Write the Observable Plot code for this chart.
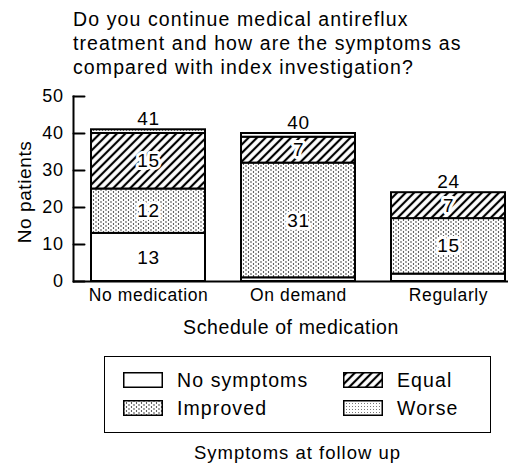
<!DOCTYPE html>
<html><head><meta charset="utf-8">
<script src="https://cdn.jsdelivr.net/npm/d3@7"></script>
<script src="https://cdn.jsdelivr.net/npm/@observablehq/plot@0.6"></script>
<style>
body{margin:0;background:#fff;font-family:"Liberation Sans",Arial,sans-serif;color:#000;width:508px;height:463px;position:relative;overflow:hidden}
#title{position:absolute;left:73px;top:7px;font-size:19.5px;line-height:24px;letter-spacing:1.1px;white-space:nowrap}
#chart{position:absolute;left:0;top:85px}
#legend{position:absolute;left:104px;top:356px;width:385px;height:75px;border:1.5px solid #000}
.item{position:absolute;display:flex;align-items:center;font-size:19.5px;letter-spacing:1.1px;white-space:nowrap}
.item svg{margin-right:14px}
#caption{position:absolute;left:104px;width:387px;top:442px;text-align:center;font-size:18.5px;letter-spacing:1px}
</style></head>
<body>
<svg width="0" height="0" style="position:absolute">
<defs>
<pattern id="pat-dots" patternUnits="userSpaceOnUse" width="5" height="4"><rect x="0" y="0" width="5" height="4" fill="#fff"/><circle cx="1" cy="1" r="0.65" fill="#000"/><circle cx="3.5" cy="3" r="0.65" fill="#000"/></pattern>
<pattern id="pat-hatch" patternUnits="userSpaceOnUse" width="6" height="6" patternTransform="rotate(45)"><rect x="0" y="0" width="6" height="6" fill="#fff"/><line x1="3" y1="0" x2="3" y2="6" stroke="#000" stroke-width="2.2"/></pattern>
<pattern id="pat-fine" patternUnits="userSpaceOnUse" width="3" height="3"><rect x="0" y="0" width="3" height="3" fill="#fff"/><rect x="0" y="0" width="1" height="1" fill="#777"/></pattern>
</defs></svg>
<div id="title">Do you continue medical antireflux<br>treatment and how are the symptoms as<br>compared with index investigation?</div>
<div id="chart"></div>
<div id="legend"></div>
<div id="caption">Symptoms at follow up</div>
<script>
const schedules = ["No medication", "On demand", "Regularly"];
const symptoms = ["No symptoms", "Improved", "Equal", "Worse"];
const noSymptoms = [13, 1, 2];
const improved = [12, 31, 15];
const equal = [15, 7, 7];
const worse = [1, 1, 0];
const totals = [41, 40, 24];
const yTicks = [0, 10, 20, 30, 40, 50];
const xTitle = "Schedule of medication";
const yTitle = "No patients";

const fills = {"No symptoms": "white", "Improved": "url(#pat-dots)", "Equal": "url(#pat-hatch)", "Worse": "url(#pat-fine)"};
const series = [noSymptoms, improved, equal, worse];
const rows = [];
schedules.forEach((s, i) => symptoms.forEach((k, j) => rows.push({schedule: s, symptom: k, count: series[j][i]})));
const totalRows = schedules.map((s, i) => ({schedule: s, total: totals[i]}));

const tickShape = {draw(context, l) { context.moveTo(0, 0); context.lineTo(0, -l); }};

const chart = Plot.plot({
  width: 508, height: 255,
  marginLeft: 73, marginRight: 0, marginTop: 11, marginBottom: 59,
  style: {fontFamily: "Liberation Sans, Arial, sans-serif", fontSize: "18px", letterSpacing: "0.6px", overflow: "visible", background: "transparent"},
  x: {domain: schedules, paddingInner: 0.24, paddingOuter: 0.07, align: 0.86, label: null},
  y: {domain: [0, 50], label: null},
  color: {type: "identity"},
  marks: [
    Plot.barY(rows, {x: "schedule", y: "count", fill: d => fills[d.symptom], stroke: "black", strokeWidth: 2, filter: d => d.count > 0}),
    Plot.text(rows, Plot.stackY({x: "schedule", y: "count", text: d => d.count >= 5 ? String(d.count) : "", fontSize: 19, stroke: "white", strokeWidth: 6, fill: "black"})),
    Plot.text(totalRows, {x: "schedule", y: "total", text: d => String(d.total), dy: -11, fontSize: 19}),
    Plot.vector(yTicks, {y: d => d, frameAnchor: "left", length: 11, rotate: 90, anchor: "start", shape: tickShape, stroke: "black", strokeWidth: 2}),
    Plot.axisY({ticks: yTicks, tickSize: 0, tickPadding: 10, fontSize: 18, label: null}),
    Plot.axisX({tickSize: 0, tickPadding: 7, fontSize: 17.5, label: null}),
    Plot.text([xTitle], {text: d => d, frameAnchor: "bottom", dy: 52, fontSize: 19.5}),
    Plot.text([yTitle], {text: d => d, frameAnchor: "left", textAnchor: "middle", dx: -49, dy: 3, rotate: -90, fontSize: 19}),
    Plot.frame({anchor: "left", strokeWidth: 2}),
    Plot.ruleY([0], {strokeWidth: 2})
  ]
});
document.getElementById("chart").appendChild(chart);

const legend = document.getElementById("legend");
const legendOrder = ["No symptoms", "Equal", "Improved", "Worse"];
legendOrder.forEach((k, i) => {
  const col = i % 2, row = Math.floor(i / 2);
  const item = document.createElement("div");
  item.className = "item";
  item.style.left = (col === 0 ? 18 : 238) + "px";
  item.style.top = (row === 0 ? 11 : 39) + "px";
  item.style.height = "24px";
  item.innerHTML = `<svg width="40" height="16"><rect x="0.75" y="0.75" width="38.5" height="14.5" fill="${fills[k]}" stroke="black" stroke-width="1.5"/></svg><span>${k}</span>`;
  legend.appendChild(item);
});
</script>
</body></html>
